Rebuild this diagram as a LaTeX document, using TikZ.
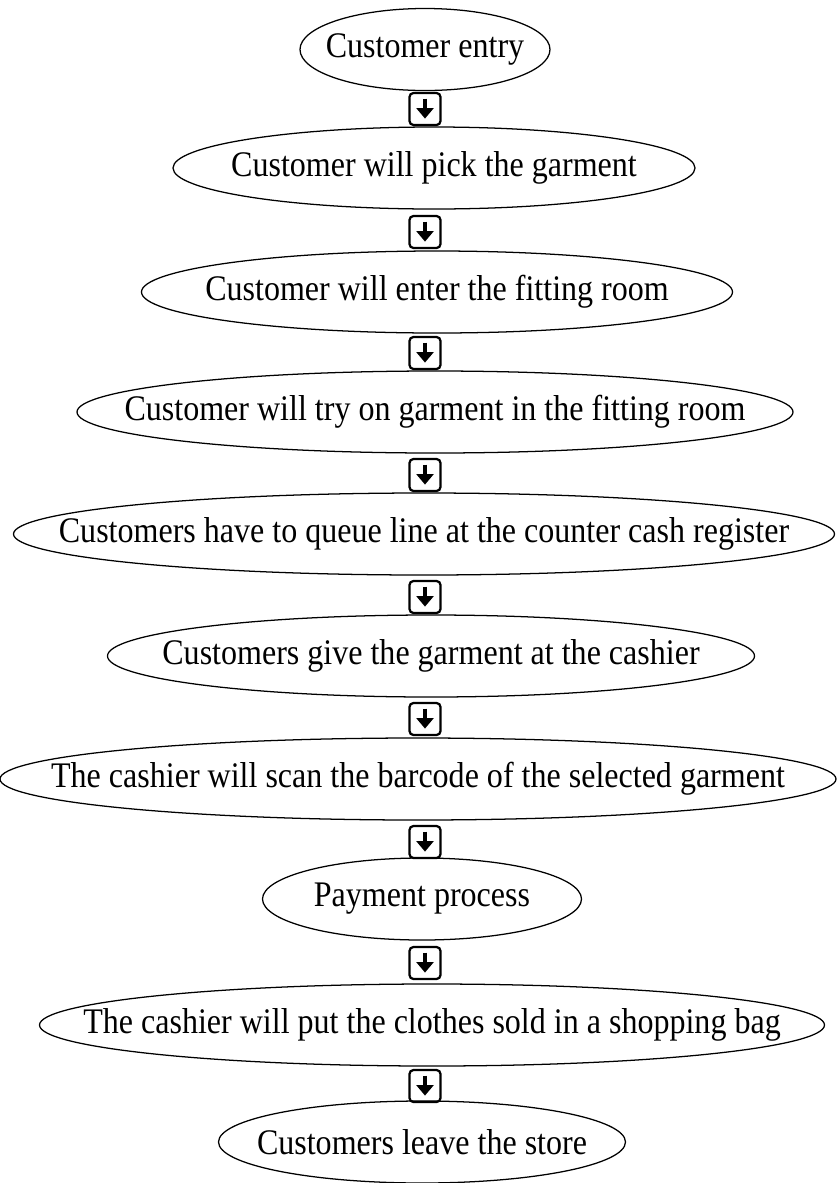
\documentclass[tikz,border=0pt]{standalone}
\usepackage{fontspec}
\setmainfont{Liberation Serif}[FakeStretch=0.89]
\usetikzlibrary{shapes.geometric,arrows.meta}

\tikzset{
  stage/.style={draw, ellipse, line width=0.9pt, inner sep=0pt, minimum height=2.05cm},
  downbox/.style={draw, rounded corners=0.1cm, line width=1.6pt, inner sep=0pt,
    minimum width=0.775cm, minimum height=0.8cm,
    path picture={\draw[line width=2.4pt, -{Triangle[width=0.42cm, length=0.26cm]}]
      ([yshift=-0.14cm]path picture bounding box.north) -- ([yshift=0.16cm]path picture bounding box.south);}}
}

\begin{document}
\begin{tikzpicture}[font=\fontsize{25.6}{30}\selectfont]
\useasboundingbox (0,0) rectangle (20.925,-29.575);

% Stages
\node[stage, minimum width=6.25cm, label=center:Customer entry] (entry) at (10.625,-1.2375) {};
\node[stage, minimum width=13.05cm, label=center:Customer will pick the garment] (pick) at (10.85,-4.2) {};
\node[stage, minimum width=14.775cm, label=center:Customer will enter the fitting room] (enter) at (10.925,-7.3) {};
\node[stage, minimum width=17.9cm, label=center:Customer will try on garment in the fitting room] (tryon) at (10.875,-10.3) {};
\node[stage, minimum width=20.525cm, label=center:Customers have to queue line at the counter cash register] (queue) at (10.6,-13.35) {};
\node[stage, minimum width=16.175cm, label=center:Customers give the garment at the cashier] (give) at (10.775,-16.4) {};
\node[stage, minimum width=20.9cm, label=center:The cashier will scan the barcode of the selected garment] (scan) at (10.45,-19.475) {};
\node[stage, minimum width=7.975cm, label=center:Payment process] (pay) at (10.55,-22.475) {};
\node[stage, minimum width=19.625cm, label=center:The cashier will put the clothes sold in a shopping bag] (bag) at (10.8,-25.625) {};
\node[stage, minimum width=10.175cm, label=center:Customers leave the store] (leave) at (10.55,-28.55) {};

% Arrow boxes
\node[downbox] (d1) at (10.625,-2.725) {};
\node[downbox] (d2) at (10.625,-5.8) {};
\node[downbox] (d3) at (10.625,-8.825) {};
\node[downbox] (d4) at (10.625,-11.875) {};
\node[downbox] (d5) at (10.625,-14.925) {};
\node[downbox] (d6) at (10.625,-17.975) {};
\node[downbox] (d7) at (10.625,-21.05) {};
\node[downbox] (d8) at (10.625,-24.075) {};
\node[downbox] (d9) at (10.625,-27.15) {};

\end{tikzpicture}
\end{document}
